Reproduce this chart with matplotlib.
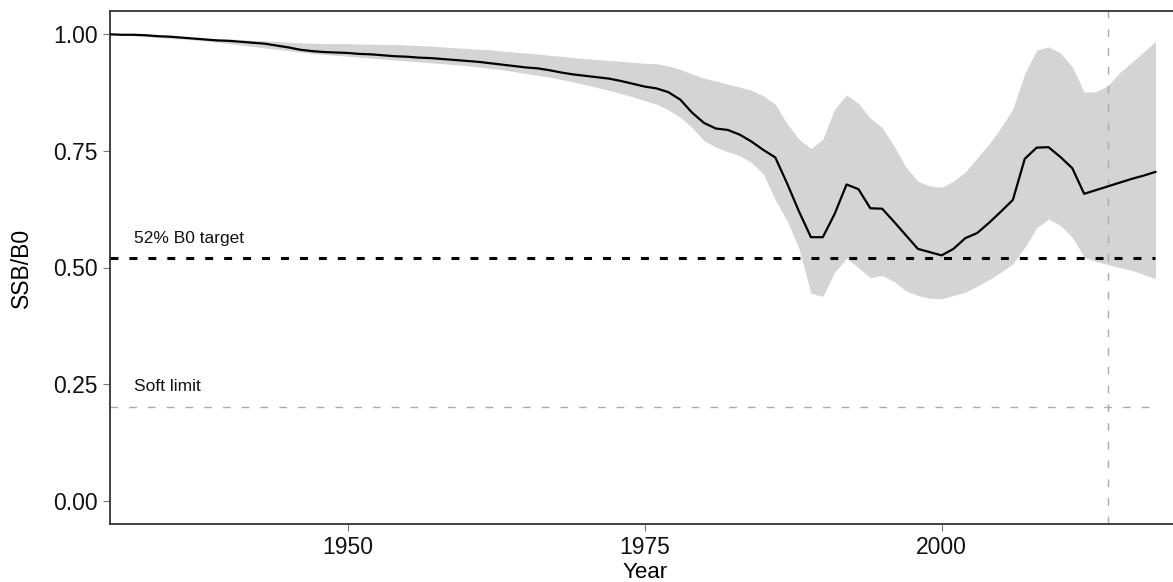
import numpy as np
import matplotlib
matplotlib.use("Agg")
import matplotlib.pyplot as plt

plt.rcParams['font.family'] = ['Liberation Sans', 'DejaVu Sans']

# SSB/B0 median and ribbon bounds, 1930-2018
years = list(range(1930, 2019))
ssb = [1.000, 0.999, 0.999, 0.998, 0.996, 0.995, 0.993, 0.991, 0.989, 0.987,
       0.986, 0.984, 0.982, 0.980, 0.976, 0.972, 0.967, 0.964, 0.962, 0.961,
       0.960, 0.958, 0.957, 0.955, 0.953, 0.952, 0.950, 0.949, 0.947, 0.945,
       0.943, 0.941, 0.938, 0.935, 0.932, 0.929, 0.927, 0.923, 0.918, 0.914,
       0.911, 0.908, 0.905, 0.900, 0.894, 0.888, 0.884, 0.876, 0.860, 0.832,
       0.810, 0.798, 0.795, 0.785, 0.770, 0.752, 0.736, 0.680, 0.620, 0.565,
       0.565, 0.615, 0.678, 0.668, 0.627, 0.626, 0.598, 0.569, 0.540, 0.533,
       0.526, 0.540, 0.563, 0.574, 0.596, 0.620, 0.645, 0.733, 0.757, 0.758,
       0.737, 0.713, 0.658, 0.666, 0.674, 0.682, 0.690, 0.697, 0.705]
upper = [1.000, 0.999, 0.999, 0.998, 0.997, 0.996, 0.995, 0.993, 0.991, 0.990,
         0.990, 0.989, 0.987, 0.986, 0.985, 0.983, 0.982, 0.981, 0.980, 0.980,
         0.980, 0.979, 0.979, 0.978, 0.978, 0.977, 0.976, 0.975, 0.973, 0.971,
         0.970, 0.968, 0.967, 0.964, 0.962, 0.960, 0.958, 0.955, 0.953, 0.950,
         0.948, 0.946, 0.944, 0.942, 0.940, 0.938, 0.937, 0.932, 0.925, 0.915,
         0.906, 0.900, 0.893, 0.887, 0.880, 0.868, 0.850, 0.808, 0.775, 0.755,
         0.775, 0.840, 0.870, 0.852, 0.820, 0.800, 0.760, 0.715, 0.685, 0.675,
         0.672, 0.685, 0.705, 0.735, 0.765, 0.800, 0.840, 0.916, 0.966, 0.973,
         0.960, 0.930, 0.876, 0.877, 0.890, 0.918, 0.940, 0.962, 0.985]
lower = [1.000, 0.998, 0.997, 0.995, 0.993, 0.991, 0.990, 0.988, 0.986, 0.983,
         0.980, 0.977, 0.974, 0.971, 0.968, 0.965, 0.962, 0.959, 0.957, 0.955,
         0.953, 0.951, 0.949, 0.947, 0.945, 0.943, 0.941, 0.939, 0.937, 0.935,
         0.933, 0.930, 0.927, 0.924, 0.920, 0.916, 0.912, 0.908, 0.903, 0.898,
         0.892, 0.886, 0.880, 0.873, 0.866, 0.858, 0.850, 0.838, 0.822, 0.800,
         0.772, 0.758, 0.748, 0.740, 0.725, 0.700, 0.645, 0.600, 0.540, 0.445,
         0.438, 0.490, 0.520, 0.500, 0.478, 0.483, 0.470, 0.450, 0.440, 0.434,
         0.433, 0.440, 0.447, 0.460, 0.474, 0.490, 0.508, 0.543, 0.585, 0.604,
         0.590, 0.565, 0.522, 0.513, 0.506, 0.500, 0.494, 0.485, 0.476]

target = 0.52
soft_limit = 0.2
current_year = 2014
xticks = [1950, 1975, 2000]
yticks = [0.00, 0.25, 0.50, 0.75, 1.00]

fig = plt.figure(figsize=(11.73, 5.82), dpi=100)
ax = fig.add_axes([110 / 1173, 1 - 524 / 582, 1 - 110 / 1173, (524 - 11) / 582])

ax.fill_between(years, lower, upper, color='#d4d4d4', lw=0, zorder=1)
ax.plot(years, ssb, color='black', lw=1.6, zorder=3)

ax.plot([years[0], years[-1]], [target, target], color='black', lw=2.2,
        dashes=(2.6, 3.6), zorder=4)
ax.plot([years[0], years[-1]], [soft_limit, soft_limit], color='#aaaaaa',
        lw=1.0, dashes=(5.5, 8), zorder=2)
ax.axvline(current_year, color='#aaaaaa', lw=1.0, dashes=(5.5, 8), zorder=2)

ax.text(1932, 0.552, '52% B0 target', fontsize=12.5, ha='left', va='baseline',
        color='#111111')
ax.text(1932, 0.236, 'Soft limit', fontsize=12.5, ha='left', va='baseline',
        color='#111111')

ax.set_xlim(1930, 1930 + (1173 - 110) / 11.88)
ax.set_ylim(-0.05, 1.05)
ax.set_xticks(xticks)
ax.set_xticklabels([str(x) for x in xticks])
ax.set_yticks(yticks)
ax.set_yticklabels([f'{y:.2f}' for y in yticks])
ax.tick_params(axis='both', labelsize=16.5, length=5, width=0.8,
               color='#777777', labelcolor='#111111', pad=4)

for side in ['left', 'top', 'bottom']:
    ax.spines[side].set_color('#333333')
    ax.spines[side].set_linewidth(1.3)
ax.spines['right'].set_visible(False)

fig.text(21 / 1173, 1 - 267.5 / 582, 'SSB/B0', rotation=90, fontsize=16.5,
         ha='center', va='center')
fig.text(645 / 1173, 4 / 582, 'Year', fontsize=16, ha='center', va='baseline')

fig.savefig('out.png', dpi=100)
